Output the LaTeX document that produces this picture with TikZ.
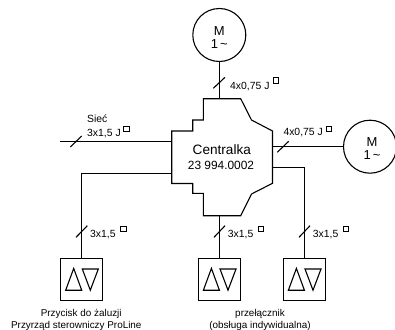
\documentclass[tikz,border=0pt]{standalone}
\usepackage{fontspec}
\setmainfont{Liberation Sans}
\usetikzlibrary{calc}
\tikzset{
	wire/.style={line width=1.1pt},
	motor/.style={draw, circle, line width=1.1pt, minimum size=53pt, inner sep=0pt},
	keypad/.style={draw, rectangle, line width=1.1pt, minimum size=42pt, inner sep=0pt},
	motortext/.style={inner sep=0pt, anchor=base, font=\fontsize{13}{13}\selectfont},
	cable/.style={inner sep=0pt, anchor=base west, font=\fontsize{10.4}{12}\selectfont},
	caption/.style={inner sep=0pt, anchor=base, font=\fontsize{9.9}{12}\selectfont},
}
\def\squaremark(#1){\draw[line width=0.8pt] ($(#1)+(-2.7pt,-2.7pt)$) rectangle ($(#1)+(2.7pt,2.7pt)$);}
\def\updown(#1){
	\draw[line width=1.1pt] ($(#1)+(-15.8pt,-11pt)$) -- ($(#1)+(0.2pt,-11pt)$) -- ($(#1)+(-7.8pt,10.8pt)$) -- cycle;
	\draw[line width=1.1pt] ($(#1)+(0.8pt,10.2pt)$) -- ($(#1)+(16.8pt,10.2pt)$) -- ($(#1)+(8.8pt,-11pt)$) -- cycle;
}
\begin{document}
\begin{tikzpicture}[x=1pt, y=-1pt]
	\useasboundingbox (0, 0) rectangle (395, 329);

	%%%%% central unit %%%%%
	\draw[wire] (203.3, 98.7) -- (240.7, 98.7) -- (251.5, 120) -- (272.5, 131) -- (272.5, 183.3)
		-- (251.5, 194) -- (240.7, 215.7) -- (203.3, 215.7) -- (203.3, 193.3) -- (192.7, 193.3)
		-- (192.7, 183.5) -- (171.7, 183.5) -- (171.7, 131) -- (192.7, 131)
		-- (192.7, 120) -- (203.3, 120) -- cycle;
	\node[inner sep=0pt, anchor=base, font=\fontsize{13.6}{14}\selectfont] (centralka) at (221.8, 154.2) {Centralka};
	\node[inner sep=0pt, anchor=base, font=\fontsize{11.9}{12}\selectfont] (numer) at (221, 169) {23 994.0002};

	%%%%% motors %%%%%
	\node[motor] (motortop) at (219.3, 35) {};
	\node[motor] (motorright) at (370, 146.7) {};
	\node[motortext] (mtop) at (219.3, 35.7) {M};
	\node[motortext] (ntop) at (219.3, 48.7) {1\,\textasciitilde};
	\node[motortext] (mright) at (372, 146.7) {M};
	\node[motortext] (nright) at (372, 159.7) {1\,\textasciitilde};
	\coordinate (topin) at (219.3, 98.7);
	\coordinate (rightin) at (272.5, 146.7);
	\draw[wire] (motortop) -- (topin);
	\draw[wire] (rightin) -- (motorright);
	\draw[wire] (213.3, 88.3) -- (225, 77.3);
	\draw[wire] (277.3, 152.3) -- (288.7, 141.3);
	\node[cable] (kabeltop) at (230, 89) {4x0,75 J};
	\node[cable] (kabelright) at (283.3, 135.8) {4x0,75 J};
	\squaremark(275.7, 80.3)
	\squaremark(328.7, 129)

	%%%%% mains %%%%%
	\coordinate (siecstart) at (60, 141.3);
	\coordinate (siecend) at (171.7, 141.3);
	\draw[wire] (siecstart) -- (siecend);
	\draw[wire] (70.3, 147) -- (81.7, 136);
	\node[cable] (siec) at (87, 122.3) {Sieć};
	\node[cable] (kabelsiec) at (87, 136) {3x1,5 J};
	\squaremark(126.2, 128.7)

	%%%%% keypads %%%%%
	\node[keypad] (keyleft) at (81.5, 279.2) {};
	\node[keypad] (keymid) at (219.2, 279.2) {};
	\node[keypad] (keyright) at (304.2, 279.2) {};
	\updown(81.5, 279.2)
	\updown(219.2, 279.2)
	\updown(304.2, 279.2)
	\coordinate (leftout) at (171.7, 173.4);
	\coordinate (rightout) at (272.5, 167.7);
	\coordinate (midout) at (219.2, 215.7);
	\draw[wire] (leftout) -| (keyleft.north);
	\draw[wire] (midout) -- (keymid.north);
	\draw[wire] (rightout) -| (keyright.north);
	\draw[wire] (76, 237.3) -- (87.3, 225.7);
	\draw[wire] (214, 237.3) -- (225, 225.7);
	\draw[wire] (299, 237.3) -- (310, 225.7);
	\node[cable] (kabelleft) at (90, 237) {3x1,5};
	\node[cable] (kabelmid) at (227.7, 237) {3x1,5};
	\node[cable] (kabelsw) at (312.7, 237) {3x1,5};
	\squaremark(123.2, 228.8)
	\squaremark(260.7, 228.8)
	\squaremark(345.7, 228.8)

	%%%%% captions %%%%%
	\node[caption] (przycisk) at (81.2, 316.7) {Przycisk do żaluzji};
	\node[caption] (przyrzad) at (76.3, 328.7) {Przyrząd sterowniczy ProLine};
	\node[caption] (przelacznik) at (260, 316.7) {przełącznik};
	\node[caption] (obsluga) at (260, 328.7) {(obsługa indywidualna)};
\end{tikzpicture}
\end{document}
